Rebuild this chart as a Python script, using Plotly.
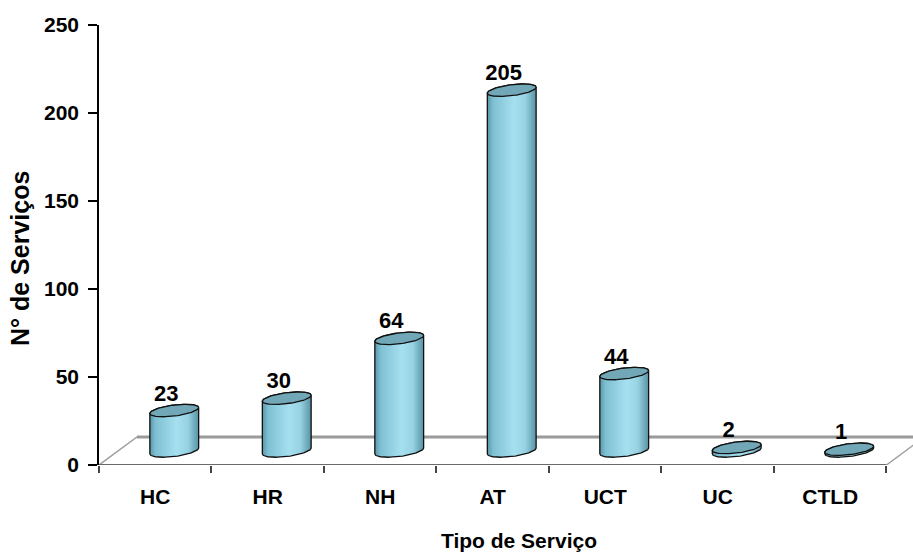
import numpy as np
import plotly.graph_objects as go

# Número de serviços por tipo de serviço
categorias = ["HC", "HR", "NH", "AT", "UCT", "UC", "CTLD"]
servicos = [23, 30, 64, 205, 44, 2, 1]
y_ticks = [0, 50, 100, 150, 200, 250]

# Figure / plot-area size
W, H = 913, 552
ML, MR, MT, MB = 99, 0, 25, 87
X_MAX = 7.236
Y_MAX = 250
px_x = (W - ML - MR) / X_MAX   # pixels per category unit
px_y = (H - MT - MB) / Y_MAX   # pixels per value unit

# Depth of the pseudo-3D floor (pixels -> data units)
DEPTH_X = 38 / px_x
DEPTH_Y = 28 / px_y

# Cylinder geometry (pixels)
R_A = 24.4     # half width
R_B = 5.5      # half height of the elliptical caps
TILT = 0.12    # caps rise slightly to the right

BODY_SCALE = [
    [0.0, "#5a97a8"],
    [0.12, "#7ec0d2"],
    [0.55, "#a6e0f0"],
    [0.78, "#97d2e3"],
    [1.0, "#5893a4"],
]
CAP_COLOR = "#71a7b7"
EDGE = "#111111"


def ellipse(cx, cy, t):
    x = cx + R_A * np.cos(t) / px_x
    y = cy + (R_B * np.sin(t) + TILT * R_A * np.cos(t)) / px_y
    return x, y


fig = go.Figure()

# Floor: front edge, side edges, back edge
n = len(categorias)
fig.add_trace(go.Scatter(
    x=[0, DEPTH_X, n + DEPTH_X], y=[0, DEPTH_Y, DEPTH_Y],
    mode="lines", line=dict(color="#a0a0a0", width=1.5),
    hoverinfo="skip", showlegend=False, cliponaxis=False))
fig.add_trace(go.Scatter(
    x=[DEPTH_X, n + DEPTH_X], y=[DEPTH_Y, DEPTH_Y],
    mode="lines", line=dict(color="#9a9a9a", width=3),
    hoverinfo="skip", showlegend=False))
fig.add_trace(go.Scatter(
    x=[n, n + DEPTH_X], y=[0, DEPTH_Y],
    mode="lines", line=dict(color="#a0a0a0", width=1.5),
    hoverinfo="skip", showlegend=False))
fig.add_trace(go.Scatter(
    x=[0, n], y=[0, 0],
    mode="lines", line=dict(color="#6a6a6a", width=2),
    hoverinfo="skip", showlegend=False, cliponaxis=False))

# Cylinders
t_low = np.linspace(np.pi, 2 * np.pi, 60)
t_up = np.linspace(0, np.pi, 60)
t_full = np.linspace(0, 2 * np.pi, 120)
lab_x, lab_y = [], []
for i, v in enumerate(servicos):
    cx = i + 0.5 + DEPTH_X / 2
    y0 = DEPTH_Y / 2
    y1 = DEPTH_Y / 2 + v
    bx0, by0 = ellipse(cx, y0, t_low)
    bx1, by1 = ellipse(cx, y1, t_up)
    bx = np.concatenate([bx0, bx1, bx0[:1]])
    by = np.concatenate([by0, by1, by0[:1]])
    fig.add_trace(go.Scatter(
        x=bx, y=by, mode="lines", fill="toself",
        fillgradient=dict(type="horizontal", colorscale=BODY_SCALE),
        line=dict(color=EDGE, width=1.3),
        hoverinfo="skip", showlegend=False, cliponaxis=False))
    tx, ty = ellipse(cx, y1, t_full)
    fig.add_trace(go.Scatter(
        x=tx, y=ty, mode="lines", fill="toself", fillcolor=CAP_COLOR,
        line=dict(color=EDGE, width=1.3),
        hoverinfo="skip", showlegend=False, cliponaxis=False))
    lab_x.append(cx - 8 / px_x)
    lab_y.append(y1 + 15.5 / px_y)

fig.add_trace(go.Scatter(
    x=lab_x, y=lab_y, mode="text", text=[str(v) for v in servicos],
    textposition="middle center",
    textfont=dict(family="Liberation Sans", size=22, color="black", weight="bold"),
    hoverinfo="skip", showlegend=False, cliponaxis=False))

fig.update_layout(
    width=W, height=H,
    margin=dict(l=ML, r=MR, t=MT, b=MB),
    paper_bgcolor="white", plot_bgcolor="white",
    showlegend=False,
    xaxis=dict(
        range=[0, X_MAX], tickmode="array",
        tickvals=[i + 0.5 for i in range(n)], ticktext=categorias,
        ticks="", showline=False, showgrid=False, zeroline=False,
        tickfont=dict(family="Liberation Sans", size=21, color="black", weight="bold"),
        ticklabelstandoff=17,
        minor=dict(tickmode="array", tickvals=list(range(n + 1)),
                   ticks="outside", ticklen=7, tickcolor="#444444",
                   tickwidth=1.5, showgrid=False),
    ),
    yaxis=dict(
        range=[0, Y_MAX], tickmode="array", tickvals=y_ticks,
        ticks="outside", ticklen=9, tickcolor="black", tickwidth=1.5,
        showline=True, linecolor="black", linewidth=1.5,
        showgrid=False, zeroline=False,
        tickfont=dict(family="Liberation Sans", size=21, color="black", weight="bold"),
        ticklabelstandoff=5,
    ),
    annotations=[
        dict(text="Tipo de Serviço", xref="paper", yref="paper",
             x=(519 - ML) / (W - ML - MR), y=(H - MB - 540) / (H - MT - MB),
             xanchor="center", yanchor="middle", showarrow=False,
             font=dict(family="Liberation Sans", size=21, color="black", weight="bold")),
        dict(text="N° de Serviços", xref="paper", yref="paper",
             x=(20 - ML) / (W - ML - MR), y=(H - MB - 259) / (H - MT - MB),
             xanchor="center", yanchor="middle", textangle=-90, showarrow=False,
             font=dict(family="Liberation Sans", size=25, color="black", weight="bold")),
    ],
)

fig.write_html("out.html")
